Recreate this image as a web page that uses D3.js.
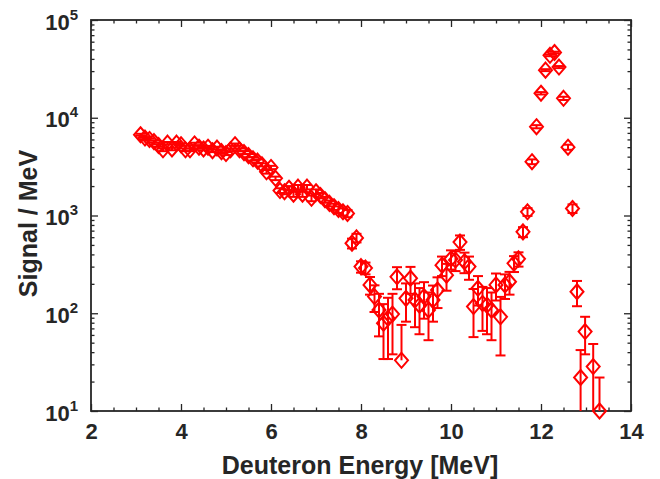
<!DOCTYPE html>
<html>
<head>
<meta charset="utf-8">
<script src="https://cdn.jsdelivr.net/npm/d3@7"></script>
<style>
  html, body { margin: 0; padding: 0; background: #fff; }
  svg { display: block; }
  text { font-family: "Liberation Sans", Arial, Helvetica, sans-serif; font-weight: bold; fill: #262626; }
</style>
</head>
<body>
<svg id="chart" width="660" height="479"></svg>
<script>
// ---- data ----
const energy = [3.1,3.2,3.3,3.4,3.5,3.6,3.7,3.8,3.9,4.0,4.1,4.2,4.3,4.4,4.5,4.6,4.7,4.8,4.9,5.0,
  5.1,5.2,5.3,5.4,5.5,5.6,5.7,5.8,5.9,6.0,6.1,6.2,6.3,6.4,6.5,6.6,6.7,6.8,6.9,7.0,
  7.1,7.2,7.3,7.4,7.5,7.6,7.7,7.8,7.9,8.0,8.1,8.2,8.3,8.4,8.5,8.6,8.7,8.8,8.9,9.0,
  9.1,9.2,9.3,9.4,9.5,9.6,9.7,9.8,9.9,10.0,10.1,10.2,10.3,10.4,10.5,10.6,10.7,10.8,10.9,11.0,
  11.1,11.2,11.3,11.4,11.5,11.6,11.7,11.8,11.9,12.0,12.1,12.2,12.3,12.4,12.5,12.6,12.7,12.8,12.88,12.98,
  13.16,13.3];
const signal = [6700,6200,6000,5700,5200,4700,5500,4800,5500,5300,4700,4700,5400,5000,4800,5000,4600,4900,4500,4300,
  4700,5300,4700,4400,4100,3800,3600,3300,2800,3100,2400,1800,1750,1900,1650,1950,1650,1950,1500,1750,
  1600,1450,1330,1230,1150,1090,1050,520,590,300,290,195,148,108,79,89,98,236,33,142,
  228,137,121,148,108,137,173,310,245,360,350,535,337,300,117,180,126,121,108,195,
  92,195,210,324,360,680,1090,3550,8100,17800,30700,43500,46500,33000,15800,5000,1180,166,22,65,
  28.5,10];
const error = [150,150,150,150,150,150,150,150,150,150,150,150,150,150,150,150,150,150,150,150,
  150,150,150,150,150,150,150,120,120,120,100,100,100,100,100,100,100,100,100,100,
  100,100,90,90,90,90,90,60,60,40,40,40,45,50,45,55,60,60,43,60,
  70,65,60,60,55,55,60,70,75,80,80,90,80,80,60,60,60,60,55,60,
  55,55,55,60,60,80,100,200,300,500,700,900,900,800,600,300,120,48,20,27,
  20,12];
const xTickValues = [2,4,6,8,10,12,14];
const yTickExponents = [1,2,3,4,5];

// ---- layout ----
const svg = d3.select("#chart");
const L = 91, R = 631, T = 20, B = 411;
const x = d3.scaleLinear().domain([2,14]).range([L,R]);
const y = d3.scaleLog().domain([10,1e5]).range([B,T]);
const axisColor = "#262626";

const xMinor = d3.range(2,14.001,0.5).filter(v => !xTickValues.includes(v));
const yMinor = [];
for (let e = 1; e < 5; e++) for (let m = 2; m <= 9; m++) yMinor.push(m*Math.pow(10,e));

function styleAxis(g) {
  g.select(".domain").remove();
  g.selectAll(".tick line").attr("stroke", axisColor).attr("stroke-width", 1.3);
}

// bottom
svg.append("g").attr("transform",`translate(0,${B})`)
  .call(d3.axisBottom(x).tickValues(xTickValues).tickSize(-7).tickPadding(18).tickFormat(d3.format("d")))
  .call(styleAxis)
  .call(g => g.selectAll("text").attr("font-size", 22).attr("fill", axisColor).attr("dy","0.45em"));
svg.append("g").attr("transform",`translate(0,${B})`)
  .call(d3.axisBottom(x).tickValues(xMinor).tickSize(-3.5).tickFormat(""))
  .call(styleAxis);
// top
svg.append("g").attr("transform",`translate(0,${T})`)
  .call(d3.axisTop(x).tickValues(xTickValues).tickSize(-7).tickFormat(""))
  .call(styleAxis);
svg.append("g").attr("transform",`translate(0,${T})`)
  .call(d3.axisTop(x).tickValues(xMinor).tickSize(-3.5).tickFormat(""))
  .call(styleAxis);
// left
const yMajor = yTickExponents.map(e => Math.pow(10,e));
const leftAx = svg.append("g").attr("transform",`translate(${L},0)`)
  .call(d3.axisLeft(y).tickValues(yMajor).tickSize(-7).tickFormat(""))
  .call(styleAxis);
leftAx.selectAll(".tick").each(function(d){
  const t = d3.select(this).append("text")
    .attr("x", -13).attr("y", 9)
    .attr("text-anchor","end")
    .attr("font-size", 22).attr("fill", axisColor);
  t.append("tspan").text("10");
  t.append("tspan").attr("font-size", 15).attr("dy", -10).text(Math.round(Math.log10(d)));
});
svg.append("g").attr("transform",`translate(${L},0)`)
  .call(d3.axisLeft(y).tickValues(yMinor).tickSize(-3.5).tickFormat(""))
  .call(styleAxis);
// right
svg.append("g").attr("transform",`translate(${R},0)`)
  .call(d3.axisRight(y).tickValues(yMajor).tickSize(-7).tickFormat(""))
  .call(styleAxis);
svg.append("g").attr("transform",`translate(${R},0)`)
  .call(d3.axisRight(y).tickValues(yMinor).tickSize(-3.5).tickFormat(""))
  .call(styleAxis);

// box
svg.append("rect").attr("x",L).attr("y",T).attr("width",R-L).attr("height",B-T)
  .attr("fill","none").attr("stroke",axisColor).attr("stroke-width",1.8);

svg.append("clipPath").attr("id","plotclip").append("rect")
  .attr("x",L).attr("y",T).attr("width",R-L).attr("height",B-T);

const data = energy.map((e,i) => ({e, v: signal[i], err: error[i]}));
const red = "#ff0000";
const capW = 5;
const eb = svg.append("g").attr("clip-path","url(#plotclip)")
  .attr("stroke", red).attr("stroke-width", 2).attr("fill","none");
data.forEach(d => {
  const hi = d.v + d.err;
  const lo = d.v - d.err;
  const cx = x(d.e);
  const yHi = y(hi);
  const yLo = lo > 0 ? y(Math.max(lo, 1)) : y(d.v);
  eb.append("line").attr("x1",cx).attr("x2",cx).attr("y1",yHi).attr("y2",yLo);
  eb.append("line").attr("x1",cx-capW).attr("x2",cx+capW).attr("y1",yHi).attr("y2",yHi);
  if (lo > 0) eb.append("line").attr("x1",cx-capW).attr("x2",cx+capW).attr("y1",y(lo)).attr("y2",y(lo));
});

const dw = 6.5, dh = 7.5;
svg.append("g").selectAll("path").data(data).join("path")
  .attr("d", d => {
    const cx = x(d.e), cy = y(d.v);
    return `M${cx},${cy-dh}L${cx+dw},${cy}L${cx},${cy+dh}L${cx-dw},${cy}Z`;
  })
  .attr("fill","none").attr("stroke",red).attr("stroke-width",2);

// axis titles
svg.append("text").attr("x", (L+R)/2 - 1).attr("y", 474)
  .attr("text-anchor","middle").attr("font-size", 25).attr("fill", axisColor)
  .text("Deuteron Energy [MeV]");
svg.append("text").attr("transform", `translate(37,${(T+B)/2 + 8}) rotate(-90)`)
  .attr("text-anchor","middle").attr("font-size", 25).attr("fill", axisColor)
  .text("Signal / MeV");
</script>
</body>
</html>
